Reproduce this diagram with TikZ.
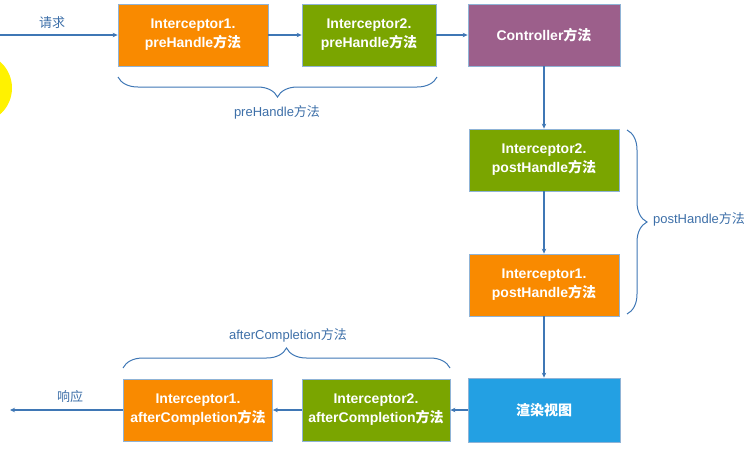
\documentclass[tikz,border=0pt]{standalone}
\usepackage{fontspec}
\setmainfont{Liberation Sans}
\newfontfamily\cjk{Noto Sans CJK SC}
\usetikzlibrary{arrows.meta,decorations.pathreplacing}
\definecolor{boxorange}{HTML}{F98A00}
\definecolor{boxgreen}{HTML}{7AA500}
\definecolor{boxpurple}{HTML}{9C5F8B}
\definecolor{boxblue}{HTML}{23A0E3}
\definecolor{boxedge}{HTML}{8FB3D6}
\definecolor{flowline}{HTML}{3F77B5}
\definecolor{labeltext}{HTML}{3D6FA8}
\definecolor{cursor}{HTML}{FFF200}

\begin{document}
\begin{tikzpicture}[x=1pt,y=-1pt,
    stepbox/.style={draw=boxedge,line width=0.8pt,text=white,align=center,
        font=\fontsize{14}{19}\selectfont\bfseries,minimum height=62pt,inner sep=0pt},
    flowarrow/.style={draw=flowline,line width=1.1pt,-{Stealth[length=5pt,width=4.5pt]}},
    grouping/.style={draw=flowline,line width=1pt,decorate,decoration={brace,amplitude=20pt}},
    steplabel/.style={text=labeltext,font=\fontsize{13}{15}\selectfont}]
    \useasboundingbox (0,0) rectangle (754,448);
    \clip (0,0) rectangle (754,448);
    \fill[cursor] (-23,88) circle (35pt);

    % preHandle
    \node[stepbox,fill=boxorange,minimum width=150pt] (pre1) at (193,35) {Interceptor1.\\preHandle{\cjk 方法}};
    \node[stepbox,fill=boxgreen,minimum width=134pt] (pre2) at (369,35) {Interceptor2.\\preHandle{\cjk 方法}};
    \node[stepbox,fill=boxpurple,minimum width=152pt] (ctrl) at (544,35) {Controller{\cjk 方法}};

    % postHandle
    \node[stepbox,fill=boxgreen,minimum width=150pt] (post2) at (544,160) {Interceptor2.\\postHandle{\cjk 方法}};
    \node[stepbox,fill=boxorange,minimum width=150pt] (post1) at (544,285) {Interceptor1.\\postHandle{\cjk 方法}};

    % afterCompletion
    \node[stepbox,fill=boxblue,minimum width=152pt,minimum height=64pt] (render) at (544,410) {\cjk\bfseries 渲染视图};
    \node[stepbox,fill=boxgreen,minimum width=148pt] (after2) at (376,410) {Interceptor2.\\afterCompletion{\cjk 方法}};
    \node[stepbox,fill=boxorange,minimum width=149pt] (after1) at (198,410) {Interceptor1.\\afterCompletion{\cjk 方法}};

    \coordinate (reqstart) at (0,35);
    \coordinate (respend) at (10,410);
    \node[steplabel] (reqlabel) at (52,23) {\cjk 请求};
    \node[steplabel] (resplabel) at (70,397) {\cjk 响应};

    \draw[flowarrow] (reqstart) -- (pre1.west);
    \draw[flowarrow] (pre1.east) -- (pre2.west);
    \draw[flowarrow] (pre2.east) -- (ctrl.west);
    \draw[flowarrow] (ctrl.south) -- (post2.north);
    \draw[flowarrow] (post2.south) -- (post1.north);
    \draw[flowarrow] (post1.south) -- (render.north);
    \draw[flowarrow] (render.west) -- (after2.east);
    \draw[flowarrow] (after2.west) -- (after1.east);
    \draw[flowarrow] (after1.west) -- (respend);

    % braces
    \draw[grouping] (437,77) -- (118,77);
    \node[steplabel] (prelabel) at (277,112) {preHandle{\cjk 方法}};
    \draw[grouping] (627,130) -- (627,314);
    \node[steplabel] (postlabel) at (699,219) {postHandle{\cjk 方法}};
    \draw[grouping] (123,368) -- (450,368);
    \node[steplabel] (afterlabel) at (288,335) {afterCompletion{\cjk 方法}};
\end{tikzpicture}
\end{document}
